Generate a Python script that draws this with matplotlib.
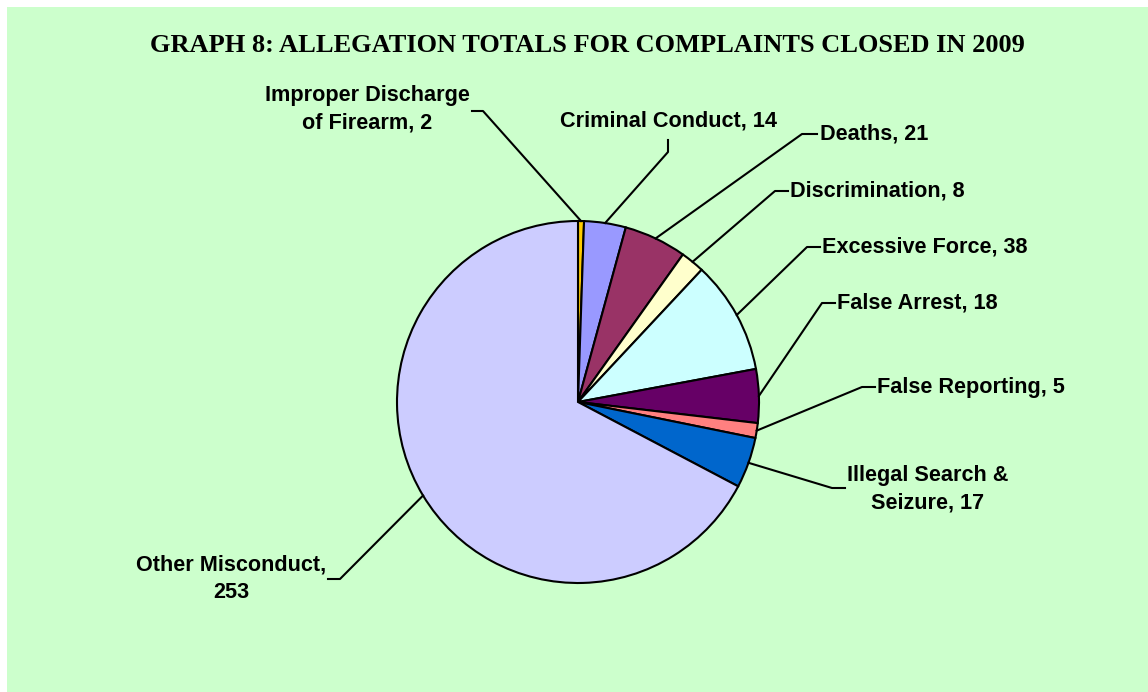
import matplotlib
matplotlib.use("Agg")
import matplotlib.pyplot as plt
import numpy as np
from matplotlib.lines import Line2D
from matplotlib.patches import Rectangle

# data
categories = ["Improper Discharge\nof Firearm", "Criminal Conduct", "Deaths",
              "Discrimination", "Excessive Force", "False Arrest",
              "False Reporting", "Illegal Search &\nSeizure", "Other Misconduct"]
values = [2, 14, 21, 8, 38, 18, 5, 17, 253]
colors = ["#FFCC00", "#9999FF", "#993366", "#FFFFCC", "#CCFFFF",
          "#660066", "#FF8080", "#0066CC", "#CCCCFF"]

title = "GRAPH 8: ALLEGATION TOTALS FOR COMPLAINTS CLOSED IN 2009"

W, H, DPI = 1148, 692, 100

# label layout in pixels (origin top-left): leader elbow points, text anchor, alignment
label_layout = [
    dict(elbow=[(483, 111), (472, 111)], pos=(470, 109), ha="right", sep=", "),
    dict(elbow=[(668, 152), (668, 140)], pos=(669, 121), ha="center", sep=", "),
    dict(elbow=[(802, 134), (817, 134)], pos=(820, 134), ha="left", sep=", "),
    dict(elbow=[(775, 191), (788, 191)], pos=(790, 191), ha="left", sep=", "),
    dict(elbow=[(807, 247), (820, 247)], pos=(822, 247), ha="left", sep=", "),
    dict(elbow=[(822, 303), (835, 303)], pos=(837, 303), ha="left", sep=", "),
    dict(elbow=[(862, 387), (875, 387)], pos=(877, 387), ha="left", sep=", "),
    dict(elbow=[(832, 488), (845, 488)], pos=(847, 489), ha="left", sep=", "),
    dict(elbow=[(340, 579), (328, 579)], pos=(326, 579), ha="right", sep=",\n"),
]


def px(x, y):
    return x / W, 1 - y / H


fig = plt.figure(figsize=(W / DPI, H / DPI), dpi=DPI, facecolor="white")
fig.patches.append(Rectangle(px(7, H), 1, 1 - 7 / H, transform=fig.transFigure,
                             facecolor="#CCFFCC", edgecolor="none", zorder=-10))

fig.text(*px(587, 45), title, ha="center", va="center",
         family="Liberation Serif", fontweight="bold", fontsize=19)

ax = fig.add_axes([397 / W, (H - 583) / H, 362 / W, 362 / H])
wedges, _ = ax.pie(values, colors=colors, startangle=90, counterclock=False,
                   wedgeprops=dict(edgecolor="black", linewidth=1.5))
ax.set_xlim(-1, 1)
ax.set_ylim(-1, 1)
ax.axis("off")

to_fig = fig.transFigure.inverted()
for w, cat, val, lay in zip(wedges, categories, values, label_layout):
    mid = np.deg2rad((w.theta1 + w.theta2) / 2)
    edge = to_fig.transform(ax.transData.transform((np.cos(mid), np.sin(mid))))
    pts = [tuple(edge)] + [px(*p) for p in lay["elbow"]]
    xs, ys = zip(*pts)
    fig.lines.append(Line2D(xs, ys, transform=fig.transFigure, color="black", linewidth=1.5))
    fig.text(*px(*lay["pos"]), f"{cat}{lay['sep']}{val}", ha=lay["ha"], va="center",
             multialignment="center", family="Liberation Sans", fontweight="bold",
             fontsize=15.6, linespacing=1.4)

fig.savefig("out.png", dpi=DPI)
